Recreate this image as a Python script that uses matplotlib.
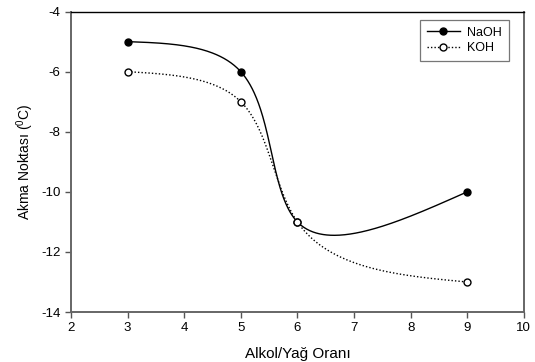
import numpy as np
import matplotlib
matplotlib.use('Agg')
import matplotlib.pyplot as plt

plt.rcParams['font.family'] = ['Liberation Sans', 'DejaVu Sans']
plt.rcParams['mathtext.fontset'] = 'custom'
plt.rcParams['mathtext.rm'] = 'Liberation Sans'
plt.rcParams['mathtext.it'] = 'Liberation Sans'
plt.rcParams['axes.unicode_minus'] = False

# data
ratio = [3, 5, 6, 9]
naoh = [-5, -6, -11, -10]
koh = [-6, -7, -11, -13]


def nat_spline(t, v, tt):
    k = len(t)
    h = np.diff(t)
    A = np.zeros((k, k))
    b = np.zeros(k)
    A[0, 0] = A[-1, -1] = 1
    for i in range(1, k - 1):
        A[i, i - 1] = h[i - 1]
        A[i, i] = 2 * (h[i - 1] + h[i])
        A[i, i + 1] = h[i]
        b[i] = 6 * ((v[i + 1] - v[i]) / h[i] - (v[i] - v[i - 1]) / h[i - 1])
    M = np.linalg.solve(A, b)
    i = np.clip(np.searchsorted(t, tt, side='right') - 1, 0, k - 2)
    a = t[i + 1] - tt
    c = tt - t[i]
    hi = h[i]
    return (M[i] * a**3 + M[i + 1] * c**3) / (6 * hi) \
        + (v[i] / hi - M[i] * hi / 6) * a + (v[i + 1] / hi - M[i + 1] * hi / 6) * c


def smooth_curve(x, y, n=400):
    # parametric spline (chord length in screen-ish units), only for drawing
    x = np.asarray(x, float)
    y = np.asarray(y, float)
    sx, sy = 56.6, 30.0
    d = np.hypot(np.diff(x) * sx, np.diff(y) * sy)
    t = np.concatenate([[0], np.cumsum(d)])
    tt = np.linspace(0, t[-1], n)
    return nat_spline(t, x, tt), nat_spline(t, y, tt)


fig = plt.figure(figsize=(5.35, 3.62), dpi=100)
ax = fig.add_axes([0.1327, 0.138, 0.8463, 0.830])

xs, ys = smooth_curve(ratio, naoh)
ax.plot(xs, ys, color='black', linewidth=1.0)
xs, ys = smooth_curve(ratio, koh)
ax.plot(xs, ys, color='black', linewidth=1.0, linestyle=(0, (1, 1.5)))

ax.plot(ratio, naoh, 'o', color='black', markersize=5)
ax.plot(ratio, koh, 'o', markerfacecolor='white', markeredgecolor='black',
        markersize=5, markeredgewidth=1.0)

# legend handles
h1, = ax.plot([], [], '-o', color='black', markersize=5, linewidth=1.0)
h2, = ax.plot([], [], 'o', linestyle=(0, (1, 1.5)), color='black', markerfacecolor='white',
              markersize=5, linewidth=1.0)
leg = ax.legend([h1, h2], ['NaOH', 'KOH'], loc='upper right', bbox_to_anchor=(0.967, 0.972),
                borderaxespad=0, fontsize=9, frameon=True, fancybox=False, handlelength=2.6,
                borderpad=0.55, labelspacing=0.25, handletextpad=0.6)
leg.get_frame().set_edgecolor('#555555')
leg.get_frame().set_linewidth(0.9)

ax.set_xlim(2, 10)
ax.set_ylim(-14, -4)
ax.set_xticks(range(2, 11))
ax.set_yticks(range(-14, -3, 2))
ax.tick_params(direction='out', length=4, width=1, labelsize=9.5, color='#555555')
ax.set_xlabel('Alkol/Yağ Oranı', fontsize=11, labelpad=9)
ax.set_ylabel('Akma Noktası ($^0$C)', fontsize=10, labelpad=4)

for s in ['left', 'bottom', 'right']:
    ax.spines[s].set_color('#666666')
    ax.spines[s].set_linewidth(1.4)
ax.spines['top'].set_color('black')
ax.spines['top'].set_linewidth(1.0)

fig.savefig('out.png', dpi=100)
